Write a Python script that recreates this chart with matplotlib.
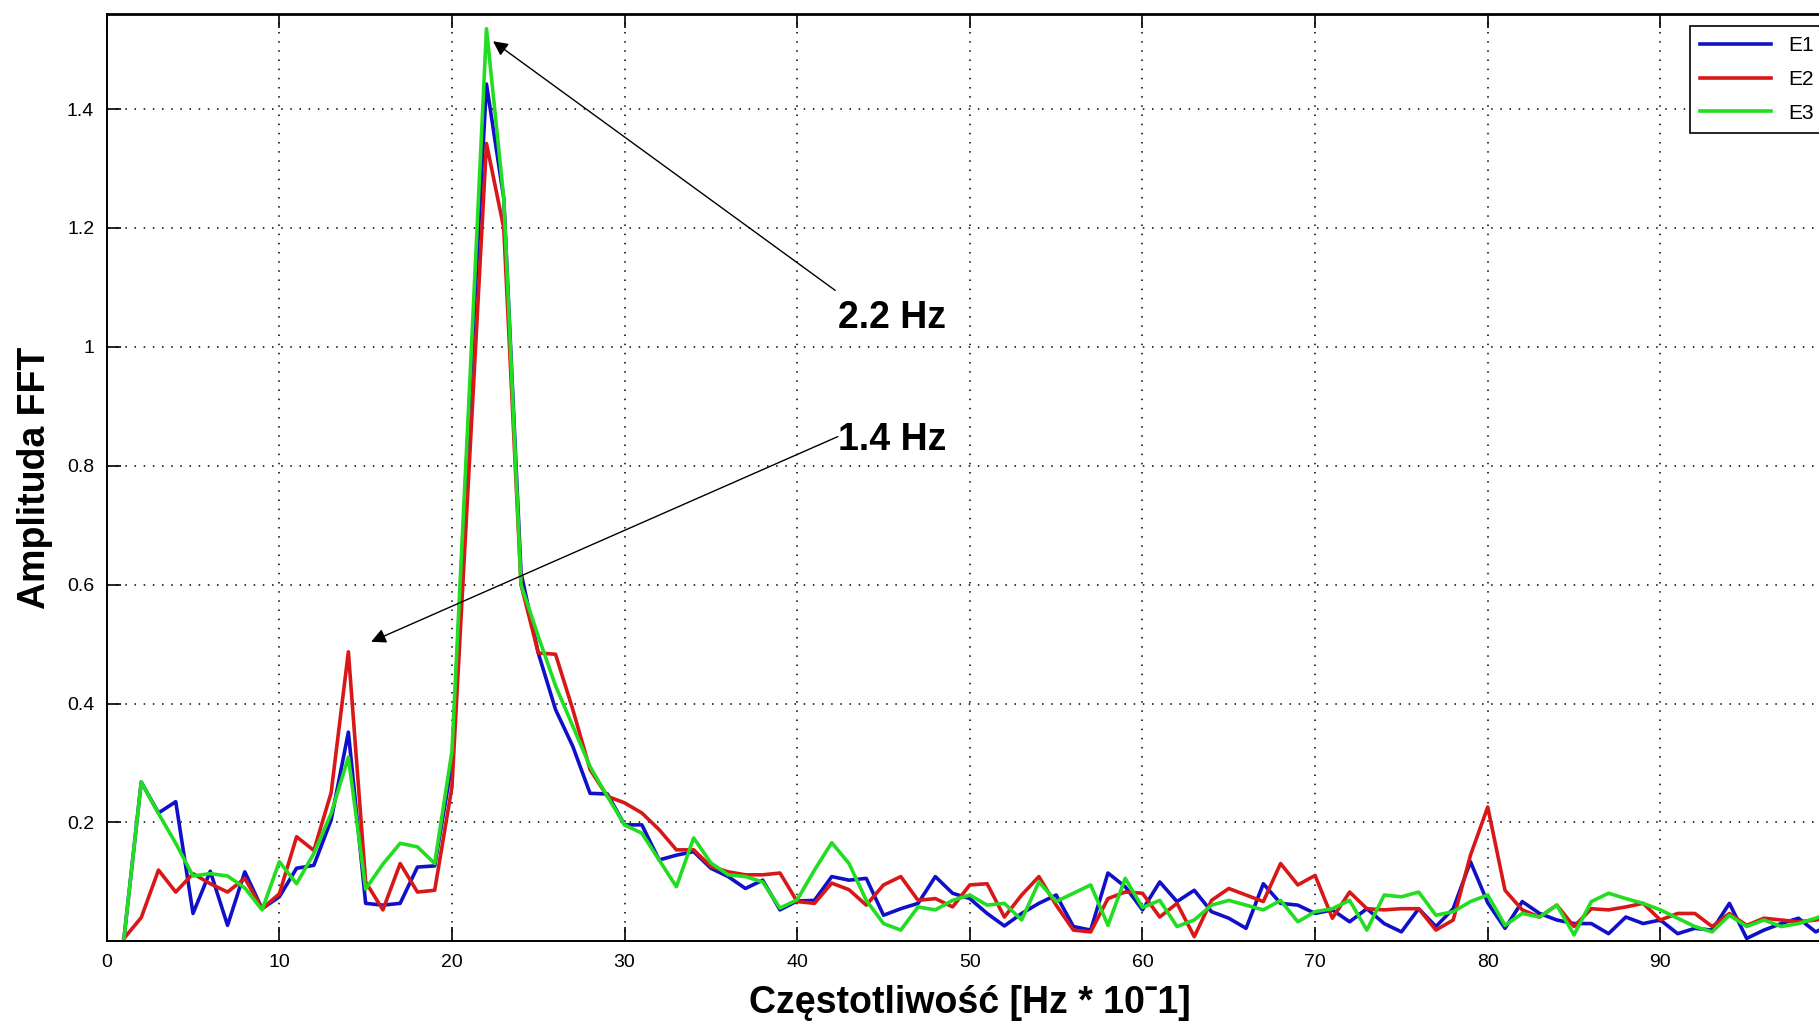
import numpy as np
import matplotlib.pyplot as plt

# frequency bins (Hz * 10^-1)
freq = np.arange(1, 101)

e1 = [0.005, 0.268, 0.216, 0.235, 0.047, 0.118, 0.027, 0.117, 0.055, 0.075,
      0.123, 0.128, 0.204, 0.352, 0.064, 0.061, 0.064, 0.125, 0.127, 0.30,
      0.90, 1.442, 1.25, 0.62, 0.485, 0.39, 0.328, 0.249, 0.248, 0.196,
      0.196, 0.137, 0.145, 0.151, 0.123, 0.109, 0.089, 0.103, 0.053, 0.068,
      0.069, 0.109, 0.103, 0.106, 0.044, 0.055, 0.064, 0.109, 0.081, 0.072,
      0.047, 0.026, 0.047, 0.064, 0.078, 0.025, 0.019, 0.115, 0.092, 0.053,
      0.100, 0.067, 0.086, 0.050, 0.039, 0.022, 0.097, 0.064, 0.061, 0.047,
      0.053, 0.033, 0.055, 0.030, 0.016, 0.055, 0.025, 0.055, 0.134, 0.065,
      0.022, 0.067, 0.047, 0.036, 0.030, 0.030, 0.013, 0.041, 0.030, 0.036,
      0.013, 0.022, 0.019, 0.064, 0.005, 0.019, 0.030, 0.039, 0.016, 0.030]

e2 = [0.005, 0.040, 0.120, 0.083, 0.114, 0.097, 0.083, 0.106, 0.055, 0.080,
      0.176, 0.153, 0.250, 0.487, 0.100, 0.053, 0.131, 0.083, 0.086, 0.26,
      0.80, 1.342, 1.20, 0.60, 0.485, 0.483, 0.39, 0.289, 0.244, 0.233,
      0.216, 0.188, 0.154, 0.154, 0.126, 0.117, 0.112, 0.112, 0.115, 0.067,
      0.064, 0.098, 0.087, 0.061, 0.095, 0.109, 0.069, 0.072, 0.058, 0.095,
      0.097, 0.041, 0.078, 0.109, 0.061, 0.019, 0.016, 0.072, 0.083, 0.081,
      0.041, 0.064, 0.008, 0.069, 0.089, 0.078, 0.067, 0.131, 0.095, 0.111,
      0.039, 0.083, 0.055, 0.053, 0.055, 0.055, 0.019, 0.036, 0.145, 0.226,
      0.086, 0.053, 0.041, 0.061, 0.025, 0.055, 0.053, 0.058, 0.064, 0.036,
      0.047, 0.047, 0.025, 0.047, 0.027, 0.039, 0.036, 0.033, 0.036, 0.040]

e3 = [0.005, 0.268, 0.215, 0.165, 0.110, 0.114, 0.110, 0.090, 0.053, 0.134,
      0.097, 0.148, 0.215, 0.310, 0.088, 0.130, 0.165, 0.159, 0.131, 0.32,
      0.92, 1.535, 1.25, 0.60, 0.513, 0.43, 0.362, 0.294, 0.244, 0.196,
      0.182, 0.137, 0.092, 0.174, 0.132, 0.112, 0.109, 0.100, 0.056, 0.070,
      0.120, 0.166, 0.131, 0.069, 0.030, 0.019, 0.058, 0.053, 0.069, 0.078,
      0.061, 0.064, 0.036, 0.100, 0.067, 0.081, 0.095, 0.027, 0.106, 0.057,
      0.069, 0.025, 0.036, 0.061, 0.069, 0.061, 0.053, 0.069, 0.033, 0.050,
      0.055, 0.069, 0.019, 0.078, 0.075, 0.083, 0.044, 0.050, 0.067, 0.078,
      0.027, 0.047, 0.041, 0.061, 0.011, 0.067, 0.081, 0.072, 0.064, 0.053,
      0.039, 0.025, 0.016, 0.044, 0.025, 0.036, 0.025, 0.030, 0.039, 0.050]

series = [("E1", e1, "#1010c8"), ("E2", e2, "#d81818"), ("E3", e3, "#22dd22")]

# the 100 tick falls outside the cropped picture
xticks = [0, 10, 20, 30, 40, 50, 60, 70, 80, 90]
yticks = [0.2, 0.4, 0.6, 0.8, 1.0, 1.2, 1.4]
ytick_labels = ["0.2", "0.4", "0.6", "0.8", "1", "1.2", "1.4"]

# annotations: label, text position, arrow tail, arrow head
notes = [("2.2 Hz", (42.37, 1.048), (42.2, 1.095), (22.38, 1.514)),
         ("1.4 Hz", (42.35, 0.844), (42.35, 0.849), (15.32, 0.504))]

plt.rcParams['font.family'] = ['Liberation Sans', 'DejaVu Sans']

fig = plt.figure(figsize=(18.19, 10.26), dpi=100)
W, H = 1819, 1026
# axes runs past the right edge like the cropped original
ax = fig.add_axes([106.7 / W, 1 - 941.4 / H, (1833 - 106.7) / W, (941.4 - 13.9) / H])

for name, vals, col in series:
    ax.plot(freq, vals, color=col, lw=2.6, label=name)

ax.set_xlim(0, 100)
ax.set_ylim(0, 1.56)
ax.set_xticks(xticks)
ax.set_yticks(yticks)
ax.set_yticklabels(ytick_labels)
ax.tick_params(direction='in', length=10, width=1.2, top=True, right=True,
               labelsize=14, pad=9)
ax.grid(True, color='black', linestyle=(0, (1, 5)), linewidth=1.1)
for s in ax.spines.values():
    s.set_linewidth(1.4)
ax.spines['top'].set_linewidth(2)

ax.set_xlabel("Częstotliwość [Hz * 10ˉ1]", fontsize=27, fontweight='bold', labelpad=10)
ax.set_ylabel("Amplituda FFT", fontsize=27, fontweight='bold', labelpad=10)

for label, tpos, tail, head in notes:
    ax.annotate('', xy=head, xytext=tail,
                arrowprops=dict(arrowstyle='-|>', color='black', lw=1.0,
                                mutation_scale=22, shrinkA=0, shrinkB=0))
    ax.text(tpos[0], tpos[1], label, fontsize=27, fontweight='bold',
            ha='left', va='center')

leg = ax.legend(loc='upper left', bbox_to_anchor=(1690 / W, 1 - 26 / H),
                bbox_transform=fig.transFigure, borderaxespad=0,
                fontsize=15, handlelength=3.4, labelspacing=0.7, borderpad=0.5,
                fancybox=False, framealpha=1, edgecolor='black')
leg.get_frame().set_linewidth(1.2)

fig.savefig("out.png", dpi=100)
